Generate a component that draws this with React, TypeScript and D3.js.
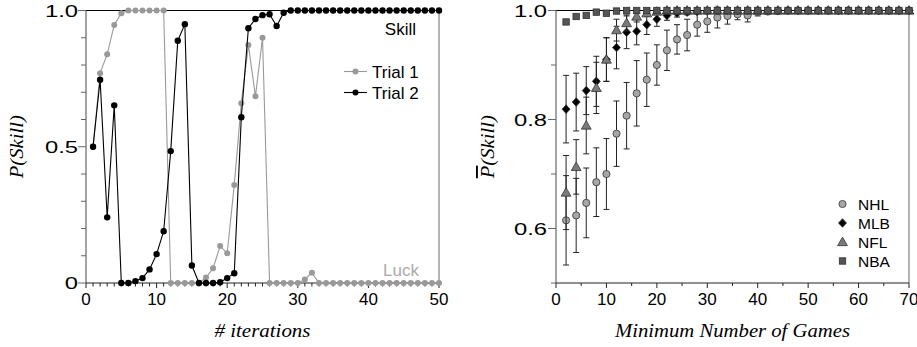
import * as d3 from "d3";

// left panel: P(Skill) per iteration, two trials
const iterations = d3.range(1, 51);
const trial1 = [
  0.5, 0.77, 0.839, 0.947, 0.99, 1, 1, 1, 1, 1,
  1, 0, 0, 0, 0, 0, 0.02, 0.054, 0.136, 0.109,
  0.36, 0.66, 0.873, 0.685, 0.9, 0, 0, 0, 0, 0,
  0.013, 0.038, 0, 0, 0, 0, 0, 0, 0, 0,
  0, 0, 0, 0, 0, 0, 0, 0, 0, 0,
];
const trial2 = [
  0.5, 0.746, 0.241, 0.652, 0, 0, 0.007, 0.018, 0.05, 0.106,
  0.19, 0.484, 0.889, 0.95, 0.064, 0, 0, 0, 0.003, 0.018,
  0.036, 0.608, 0.935, 0.969, 0.983, 0.986, 0.943, 0.992, 1, 1,
  1, 1, 1, 1, 1, 1, 1, 1, 1, 1,
  1, 1, 1, 1, 1, 1, 1, 1, 1, 1,
];
const trialNames = ["Trial 1", "Trial 2"];
const trialColors = ["#999999", "#000000"];

// right panel: mean P(Skill) vs minimum number of games
const minGames = d3.range(2, 71, 2);
const nhlMean = [
  0.615, 0.624, 0.647, 0.685, 0.7, 0.774, 0.807, 0.848, 0.873, 0.9,
  0.927, 0.947, 0.955, 0.974, 0.98, 0.987, 0.99, 0.993, 0.991, 0.997,
  0.998, 0.999, 1, 1, 1, 1, 1, 1, 1, 1, 1, 1, 1, 1, 1,
];
const nhlErr = [
  0.082, 0.068, 0.064, 0.063, 0.065, 0.06, 0.061, 0.06, 0.049, 0.037,
  0.037, 0.027, 0.029, 0.021, 0.02, 0.019, 0.015, 0.01, 0.012, 0.007,
  0.004, 0.002, 0, 0, 0, 0, 0, 0, 0, 0, 0, 0, 0, 0, 0,
];
const mlbMean = [
  0.819, 0.832, 0.853, 0.87, 0.91, 0.932, 0.96, 0.962, 0.974, 0.984,
  0.991, 0.995, 0.997, 0.998, 0.999, 1, 1, 1, 1, 1,
  1, 1, 1, 1, 1, 1, 1, 1, 1, 1, 1, 1, 1, 1, 1,
];
const mlbErr = [
  0.062, 0.053, 0.044, 0.046, 0.04, 0.039, 0.03, 0.025, 0.018, 0.013,
  0.009, 0.007, 0.005, 0.004, 0.003, 0.002, 0.001, 0, 0, 0,
  0, 0, 0, 0, 0, 0, 0, 0, 0, 0, 0, 0, 0, 0, 0,
];
const nflMean = [
  0.666, 0.713, 0.789, 0.858, 0.91, 0.964, 0.977, 0.989, 0.995, 0.998,
  1, 1, 1, 1, 1, 1, 1, 1, 1, 1,
  1, 1, 1, 1, 1, 1, 1, 1, 1, 1, 1, 1, 1, 1, 1,
];
const nflErr = [
  0.068, 0.05, 0.052, 0.047, 0.04, 0.02, 0.015, 0.01, 0.006, 0.003,
  0, 0, 0, 0, 0, 0, 0, 0, 0, 0,
  0, 0, 0, 0, 0, 0, 0, 0, 0, 0, 0, 0, 0, 0, 0,
];
const nbaMean = [
  0.979, 0.989, 0.991, 0.997, 0.995, 0.999, 1, 1, 1, 1,
  1, 1, 1, 1, 1, 1, 1, 1, 1, 1,
  1, 1, 1, 1, 1, 1, 1, 1, 1, 1, 1, 1, 1, 1, 1,
];
const nbaErr = [
  0.004, 0.003, 0.003, 0.002, 0.002, 0.001, 0, 0, 0, 0,
  0, 0, 0, 0, 0, 0, 0, 0, 0, 0,
  0, 0, 0, 0, 0, 0, 0, 0, 0, 0, 0, 0, 0, 0, 0,
];
const leagueNames = ["NHL", "MLB", "NFL", "NBA"];

// tick labels
const leftYTicks = [0, 0.5, 1];
const leftYLabels = ["0", "0.5", "1.0"];
const leftXTicks = [0, 10, 20, 30, 40, 50];
const rightYTicks = [0.6, 0.8, 1];
const rightYLabels = ["0.6", "0.8", "1.0"];
const rightXTicks = [0, 10, 20, 30, 40, 50, 60, 70];

const sansStyle = { fontFamily: '"Liberation Sans"' };
const serifStyle = { fontFamily: '"Liberation Serif"', fontStyle: "italic" };
const axisColor = "#666";

const xL = d3.scaleLinear().domain([0, 50]).range([86, 439]);
const yL = d3.scaleLinear().domain([0, 1]).range([283, 10.5]);
const xR = d3.scaleLinear().domain([0, 70]).range([556, 909]);
const yR = d3.scaleLinear().domain([0.5, 1]).range([283, 10.5]);

const diamond = "M0,-4.3L4,0L0,4.3L-4,0Z";
const triangle = d3.symbol(d3.symbolTriangle, 42)() ?? "";

type Shape = "circle" | "diamond" | "triangle" | "square";
const leagueShapes: Shape[] = ["circle", "diamond", "triangle", "square"];
const leagueFills = ["#a6a6a6", "#000000", "#7a7a7a", "#555555"];

function Marker({ shape, x, y, fill }: { shape: Shape; x: number; y: number; fill: string }) {
  const common = { fill, stroke: "#333", strokeWidth: 0.8 };
  if (shape === "circle") return <circle cx={x} cy={y} r={3.6} {...common} />;
  if (shape === "square") return <rect x={x - 3.2} y={y - 3.2} width={6.4} height={6.4} {...common} />;
  if (shape === "diamond") return <path d={diamond} transform={`translate(${x},${y})`} {...common} />;
  return <path d={triangle} transform={`translate(${x},${y + 0.8})`} {...common} />;
}

// y tick labels in the original are drawn wider than the x ones
function YLabel({ x, y, text }: { x: number; y: number; text: string }) {
  return (
    <text
      transform={`translate(${x},${y + 6}) scale(1.4,1)`}
      textAnchor="end"
      style={sansStyle}
      fontSize={17}
      fill="#000"
    >
      {text}
    </text>
  );
}

function LeftPanel() {
  const series = [trial1, trial2];
  const line = d3
    .line<number>()
    .x((_, i) => xL(iterations[i]))
    .y((d) => yL(d));
  return (
    <g>
      {/* frame */}
      <line x1={xL(0)} x2={xL(50)} y1={yL(1)} y2={yL(1)} stroke="#000" strokeWidth={1} />
      <line x1={xL(50)} x2={xL(50)} y1={yL(1)} y2={yL(0)} stroke={axisColor} strokeWidth={1} />
      <line x1={xL(0)} x2={xL(0)} y1={yL(1)} y2={yL(0)} stroke={axisColor} strokeWidth={1.2} />
      <line x1={xL(0)} x2={xL(50)} y1={yL(0)} y2={yL(0)} stroke="#222" strokeWidth={1} />

      {yL.ticks(10).map((t) => {
        const major = leftYTicks.some((m) => Math.abs(m - t) < 1e-9);
        return (
          <line key={t} x1={xL(0) - (major ? 8 : 5)} x2={xL(0)} y1={yL(t)} y2={yL(t)} stroke={axisColor} />
        );
      })}
      {xL.ticks(50).map((t) => {
        const major = leftXTicks.includes(t);
        return (
          <line key={t} x1={xL(t)} x2={xL(t)} y1={yL(0)} y2={yL(0) + (major ? 5 : 3.5)} stroke="#222" />
        );
      })}
      {leftYTicks.map((t, i) => (
        <YLabel key={t} x={xL(0) - 8} y={yL(t)} text={leftYLabels[i]} />
      ))}
      {leftXTicks.map((t) => (
        <text key={t} x={xL(t)} y={305} textAnchor="middle" style={sansStyle} fontSize={17}>
          {t}
        </text>
      ))}

      {series.map((s, k) => (
        <g key={k}>
          <path d={line(s) ?? ""} fill="none" stroke={trialColors[k]} strokeWidth={1.1} />
          {s.map((v, i) => (
            <circle key={i} cx={xL(iterations[i])} cy={yL(v)} r={k === 0 ? 3 : 3.2} fill={trialColors[k]} />
          ))}
        </g>
      ))}

      <text x={416} y={34.5} textAnchor="end" style={sansStyle} fontSize={17} fill="#000">
        Skill
      </text>
      <text x={419} y={275.5} textAnchor="end" style={sansStyle} fontSize={17} fill="#aaaaaa">
        Luck
      </text>

      {trialNames.map((name, k) => (
        <g key={name} transform={`translate(0,${k * 21})`}>
          <line x1={344} x2={367} y1={71.5} y2={71.5} stroke={trialColors[k]} strokeWidth={1.1} />
          <circle cx={355.5} cy={71.5} r={3} fill={trialColors[k]} />
          <text x={372} y={77.5} style={sansStyle} fontSize={17}>
            {name}
          </text>
        </g>
      ))}

      <text
        transform={`translate(23,${(yL(0) + yL(1)) / 2}) rotate(-90)`}
        textAnchor="middle"
        style={serifStyle}
        fontSize={19}
        textLength={63}
        lengthAdjust="spacingAndGlyphs"
      >
        P(Skill)
      </text>
      <text
        x={(xL(0) + xL(50)) / 2}
        y={337}
        textAnchor="middle"
        style={serifStyle}
        fontSize={19}
        textLength={96}
        lengthAdjust="spacingAndGlyphs"
      >
        # iterations
      </text>
    </g>
  );
}

function RightPanel() {
  const leagues = [
    { mean: nhlMean, err: nhlErr },
    { mean: mlbMean, err: mlbErr },
    { mean: nflMean, err: nflErr },
    { mean: nbaMean, err: nbaErr },
  ];
  return (
    <g>
      <line x1={xR(0)} x2={xR(70)} y1={yR(1)} y2={yR(1)} stroke="#000" strokeWidth={1} />
      <line x1={xR(70)} x2={xR(70)} y1={yR(1)} y2={yR(0.5)} stroke={axisColor} strokeWidth={1} />
      <line x1={xR(0)} x2={xR(0)} y1={yR(1)} y2={yR(0.5)} stroke={axisColor} strokeWidth={1.2} />
      <line x1={xR(0)} x2={xR(70)} y1={yR(0.5)} y2={yR(0.5)} stroke="#222" strokeWidth={1} />

      {yR.ticks(5).map((t) => {
        const major = rightYTicks.some((m) => Math.abs(m - t) < 1e-9);
        return (
          <line key={t} x1={xR(0) - (major ? 8 : 5)} x2={xR(0)} y1={yR(t)} y2={yR(t)} stroke={axisColor} />
        );
      })}
      {xR.ticks(14).map((t) => {
        const major = rightXTicks.includes(t);
        return (
          <line key={t} x1={xR(t)} x2={xR(t)} y1={yR(0.5)} y2={yR(0.5) + (major ? 5 : 3)} stroke="#222" />
        );
      })}
      {rightYTicks.map((t, i) => (
        <YLabel key={t} x={xR(0) - 9} y={yR(t)} text={rightYLabels[i]} />
      ))}
      {rightXTicks.map((t) => (
        <text key={t} x={xR(t)} y={305} textAnchor="middle" style={sansStyle} fontSize={17}>
          {t}
        </text>
      ))}

      {leagues.map((lg, k) => (
        <g key={leagueNames[k]}>
          {lg.mean.map((m, i) => {
            const e = lg.err[i];
            if (e <= 0) return null;
            const x = xR(minGames[i]);
            const y0 = yR(m - e);
            const y1 = yR(m + e);
            return (
              <g key={i} stroke="#222" strokeWidth={1}>
                <line x1={x} x2={x} y1={y0} y2={y1} />
                <line x1={x - 3} x2={x + 3} y1={y0} y2={y0} />
                <line x1={x - 3} x2={x + 3} y1={y1} y2={y1} />
              </g>
            );
          })}
          {lg.mean.map((m, i) => (
            <Marker key={i} shape={leagueShapes[k]} x={xR(minGames[i])} y={yR(m)} fill={leagueFills[k]} />
          ))}
        </g>
      ))}

      {leagueNames.map((name, k) => (
        <g key={name} transform={`translate(0,${k * 19})`}>
          <Marker shape={leagueShapes[k]} x={842.5} y={204} fill={leagueFills[k]} />
          <text x={858} y={209.5} style={sansStyle} fontSize={15.5}>
            {name}
          </text>
        </g>
      ))}

      <text
        transform={`translate(494,${(yR(0.5) + yR(1)) / 2}) rotate(-90)`}
        textAnchor="middle"
        style={serifStyle}
        fontSize={19}
        textLength={63}
        lengthAdjust="spacingAndGlyphs"
      >
        <tspan textDecoration="overline">P</tspan>(Skill)
      </text>
      <text
        x={(xR(0) + xR(70)) / 2}
        y={337}
        textAnchor="middle"
        style={serifStyle}
        fontSize={19}
        textLength={235}
        lengthAdjust="spacingAndGlyphs"
      >
        Minimum Number of Games
      </text>
    </g>
  );
}

export default function App() {
  return (
    <svg
      width={917}
      height={347}
      viewBox="0 0 917 347"
      style={{ position: "absolute", left: 0, top: 0, background: "#fff" }}
    >
      <LeftPanel />
      <RightPanel />
    </svg>
  );
}
